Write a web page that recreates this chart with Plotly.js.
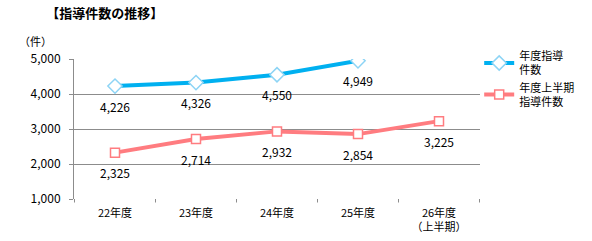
<!DOCTYPE html>
<html><head><meta charset="utf-8">
<script src="https://cdn.plot.ly/plotly-3.0.1.min.js"></script>
<style>html,body{margin:0;padding:0;background:#fff}#c{width:592px;height:241px}</style>
</head><body><div id="c"></div>
<script>
const categories = ['22年度','23年度','24年度','25年度','26年度<br>（上半期）'];
const annualValues = [4226, 4326, 4550, 4949, null];
const halfValues = [2325, 2714, 2932, 2854, 3225];
const annualName = '年度指導<br>件数';
const halfName = '年度上半期<br>指導件数';
const yTicks = [1000, 2000, 3000, 4000, 5000];
const yTickText = ['1,000','2,000','3,000','4,000','5,000'];

const F = '"Noto Sans CJK JP", "Noto Sans", sans-serif';
const fmt = v => v.toLocaleString('en-US');

const traces = [
  {x: categories, y: annualValues, name: annualName, legendgroup:'a', type:'scatter', mode:'lines+markers',
   line:{color:'#00B0F0', width:4},
   marker:{symbol:'diamond', size:11, color:'#ffffff', line:{color:'#8DD4F5', width:1.5}},
   connectgaps:false},
  {x: categories, y: halfValues, name: halfName, legendgroup:'b', type:'scatter', mode:'lines+markers',
   line:{color:'#FF7C80', width:4},
   marker:{symbol:'square', size:9, color:'#ffffff', line:{color:'#FF7C80', width:1.5}}}
];

const annotations = [];
annualValues.forEach((v,i)=>{ if(v!=null) annotations.push({x:categories[i], y:v, text:fmt(v), showarrow:false, yshift:-20, font:{family:F,size:12,color:'#000'}}); });
halfValues.forEach((v,i)=>{ if(v!=null) annotations.push({x:categories[i], y:v, text:fmt(v), showarrow:false, yshift:-20, font:{family:F,size:12,color:'#000'}}); });
annotations.push({xref:'paper', yref:'paper', x:-0.095, y:1.13, xanchor:'center', yanchor:'middle', text:'（件）', showarrow:false, font:{family:F,size:11,color:'#000'}});

const tickPos = [];
for (let i = 0; i <= categories.length; i++) tickPos.push(i - 0.5);

const layout = {
  width:592, height:241,
  margin:{l:74, r:112, t:59, b:42},
  paper_bgcolor:'#fff', plot_bgcolor:'#fff',
  font:{family:F, size:11, color:'#000'},
  title:{text:'<b>【指導件数の推移】</b>', x:0.078, xanchor:'left', y:0.945, yanchor:'middle', font:{family:F, size:13, color:'#000'}},
  xaxis:{type:'category', showgrid:false, showline:false, zeroline:false,
    ticks:'', tickfont:{family:F,size:11}, fixedrange:true, ticklabelstandoff:6},
  yaxis:{range:[1000,5000], tickvals:yTicks, ticktext:yTickText, showgrid:true, gridcolor:'#8c8c8c', gridwidth:1,
    showline:true, linecolor:'#8c8c8c', linewidth:1, ticks:'outside', ticklen:4, tickcolor:'#8c8c8c',
    zeroline:false, tickfont:{family:F,size:12}, ticklabelstandoff:6},
  showlegend:true,
  legend:{x:0.998, xanchor:'left', y:1.12, yanchor:'top', font:{family:F,size:11}, tracegroupgap:0, itemwidth:30, bgcolor:'rgba(0,0,0,0)'},
  annotations: annotations,
  shapes: tickPos.map(p=>({type:'line', xref:'x', yref:'paper', x0:p, x1:p, y0:0, y1:-0.025, line:{color:'#8c8c8c', width:1}}))
};
Plotly.newPlot('c', traces, layout, {displayModeBar:false, staticPlot:true});
</script></body></html>
